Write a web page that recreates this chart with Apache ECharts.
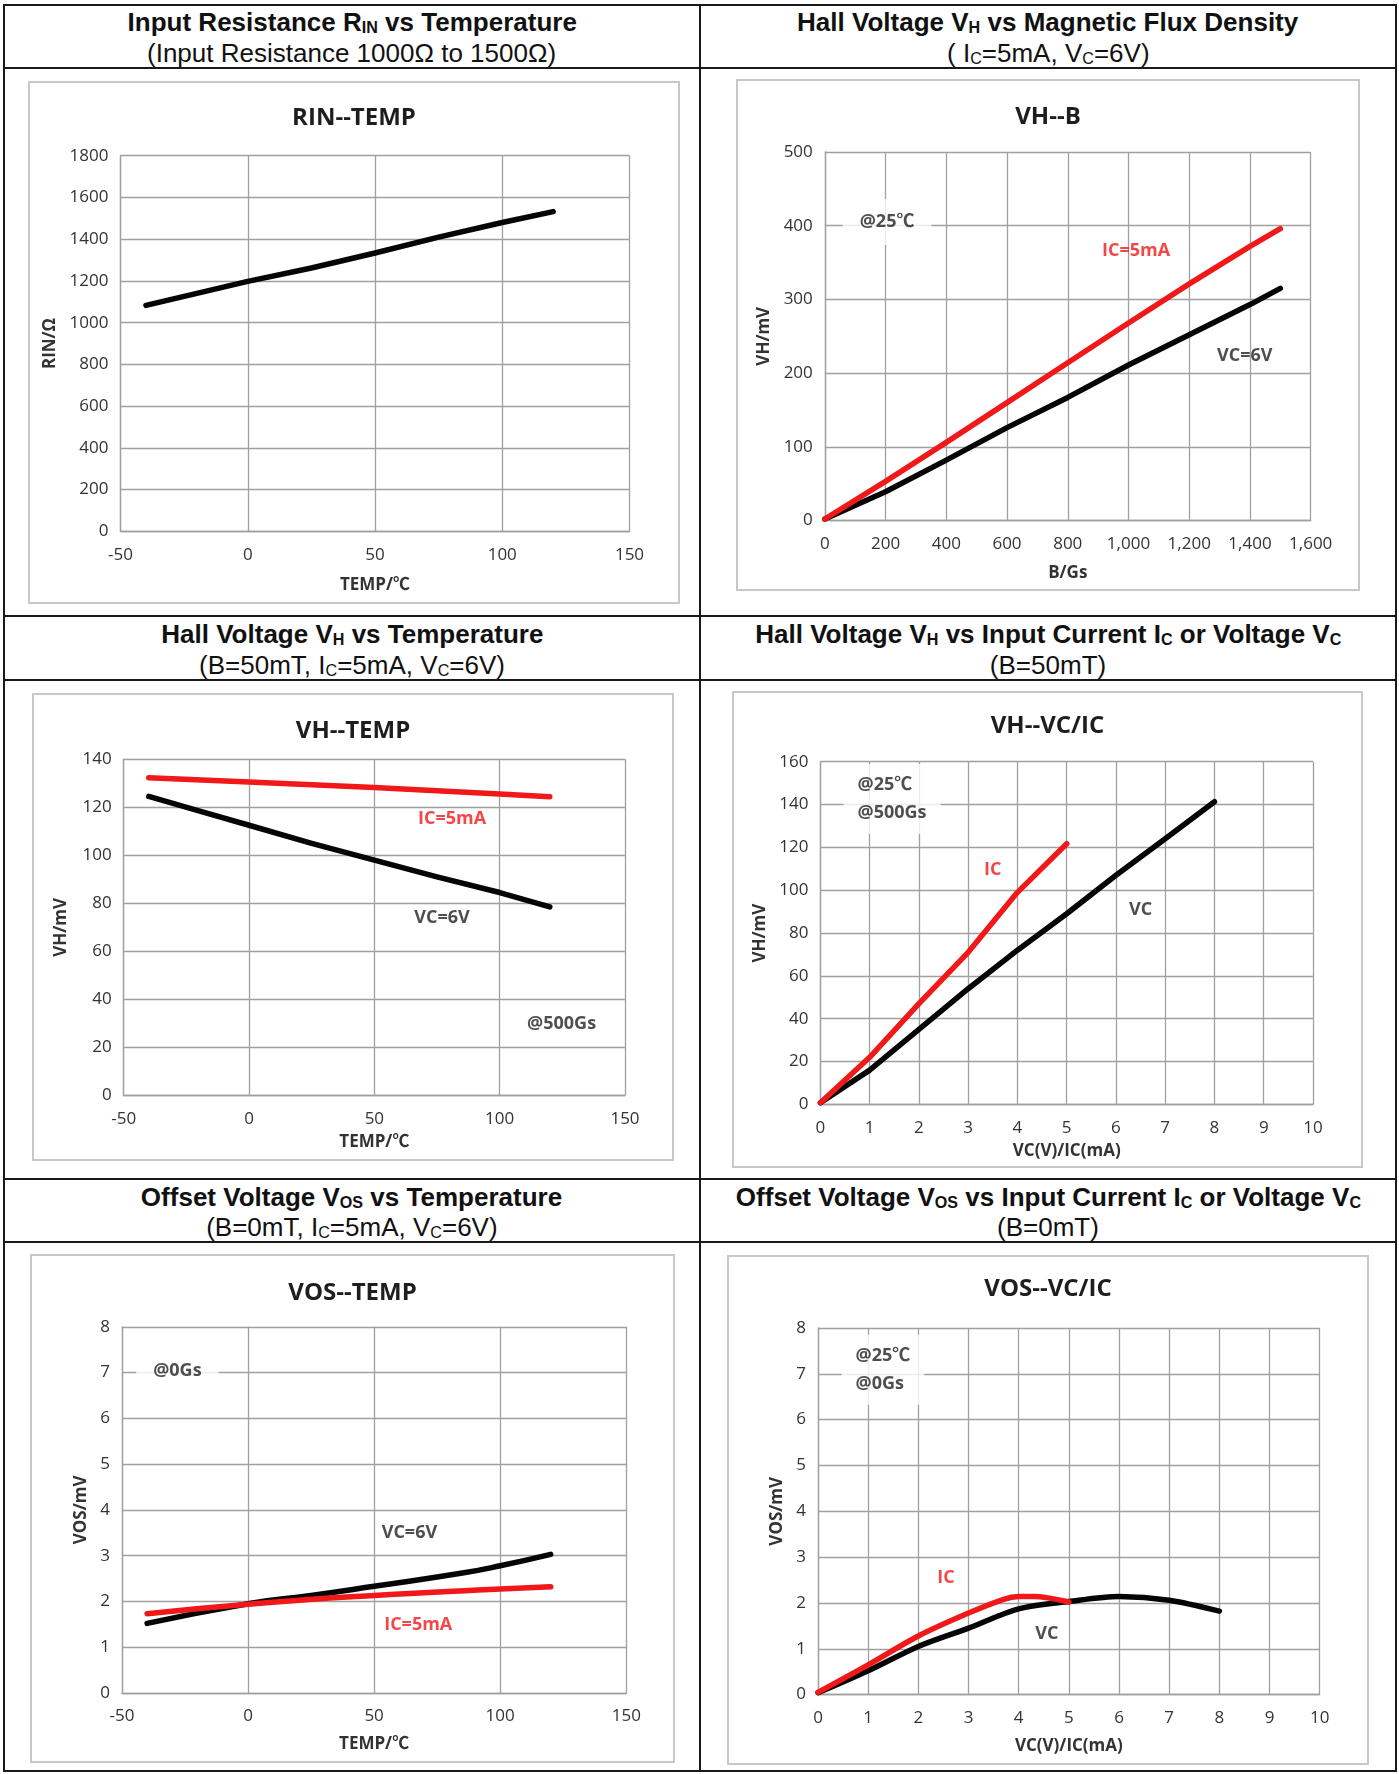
<!DOCTYPE html>
<html>
<head>
<meta charset="utf-8">
<script src="https://cdn.jsdelivr.net/npm/echarts@6/dist/echarts.min.js"></script>
<style>
  body { margin: 0; background: #fff; }
  #page { position: relative; width: 1399px; height: 1774px; overflow: hidden; font-family: "Liberation Sans", Arial, sans-serif; color: #111; }
  .hl, .vl { position: absolute; background: #1a1a1a; }
  .hl { height: 2px; left: 3px; width: 1394px; }
  .vl { width: 2px; top: 3.5px; height: 1768.5px; }
  .hd { position: absolute; width: 696px; text-align: center; white-space: nowrap; height: 30px; line-height: 30px; font-size: 25.5px; }
  .hd span.s { display: inline-block; transform: scaleX(1.02); }
  .hd.t { font-weight: bold; }
  .sb { font-size: 0.62em; vertical-align: -0.12em; }
  .box { position: absolute; border: 2px solid #c8c8c8; box-sizing: border-box; background: #fff; }
</style>
</head>
<body>
<div id="page">
  <div class="hl" style="top:3.5px"></div>
  <div class="hl" style="top:66.5px"></div>
  <div class="hl" style="top:615px"></div>
  <div class="hl" style="top:678.5px"></div>
  <div class="hl" style="top:1177.5px"></div>
  <div class="hl" style="top:1240.5px"></div>
  <div class="hl" style="top:1770px"></div>
  <div class="vl" style="left:3px"></div>
  <div class="vl" style="left:699px"></div>
  <div class="vl" style="left:1394.5px"></div>

  <div class="hd t" style="left:4px;top:7px"><span class="s">Input Resistance R<span class="sb">IN</span> vs Temperature</span></div>
  <div class="hd" style="left:4px;top:37.5px"><span class="s">(Input Resistance 1000Ω to 1500Ω)</span></div>
  <div class="hd t" style="left:700px;top:7px"><span class="s">Hall Voltage V<span class="sb">H</span> vs Magnetic Flux Density</span></div>
  <div class="hd" style="left:700px;top:37.5px"><span class="s">( I<span class="sb">C</span>=5mA, V<span class="sb">C</span>=6V)</span></div>

  <div class="hd t" style="left:4px;top:619px"><span class="s">Hall Voltage V<span class="sb">H</span> vs Temperature</span></div>
  <div class="hd" style="left:4px;top:649.5px"><span class="s">(B=50mT, I<span class="sb">C</span>=5mA, V<span class="sb">C</span>=6V)</span></div>
  <div class="hd t" style="left:700px;top:619px"><span class="s">Hall Voltage V<span class="sb">H</span> vs Input Current I<span class="sb">C</span> or Voltage V<span class="sb">C</span></span></div>
  <div class="hd" style="left:700px;top:649.5px"><span class="s">(B=50mT)</span></div>

  <div class="hd t" style="left:4px;top:1181.5px"><span class="s">Offset Voltage V<span class="sb">OS</span> vs Temperature</span></div>
  <div class="hd" style="left:4px;top:1212px"><span class="s">(B=0mT, I<span class="sb">C</span>=5mA, V<span class="sb">C</span>=6V)</span></div>
  <div class="hd t" style="left:700px;top:1181.5px"><span class="s">Offset Voltage V<span class="sb">OS</span> vs Input Current I<span class="sb">C</span> or Voltage V<span class="sb">C</span></span></div>
  <div class="hd" style="left:700px;top:1212px"><span class="s">(B=0mT)</span></div>

  <div class="box" id="c1"></div>
  <div class="box" id="c2"></div>
  <div class="box" id="c3"></div>
  <div class="box" id="c4"></div>
  <div class="box" id="c5"></div>
  <div class="box" id="c6"></div>
</div>

<script>
// ---- data ----
// axis ranges: [min, max, interval]
const tempAxis = [-50, 150, 50];
const rinAxis = [0, 1800, 200];
const bAxis = [0, 1600, 200];
const vhBAxis = [0, 500, 100];
const vhTAxis = [0, 140, 20];
const icAxis = [0, 10, 1];
const vhIAxis = [0, 160, 20];
const vosAxis = [0, 8, 1];

// RIN--TEMP
const rinTemp = [[-40, 1083], [0, 1198], [25, 1262], [50, 1334], [75, 1410], [100, 1480], [120, 1532]];
// VH--B
const vhB_vc = [[0, 2], [200, 39], [400, 82], [600, 126], [800, 167], [1000, 211], [1200, 252], [1400, 293], [1500, 315]];
const vhB_ic = [[0, 2], [200, 53], [400, 106], [600, 160], [800, 214], [1000, 268], [1200, 321], [1400, 372], [1500, 396]];
// VH--TEMP
const vhT_vc = [[-40, 124.5], [-20, 118.5], [0, 112.5], [25, 105], [50, 98], [75, 91], [100, 84.5], [120, 78.5]];
const vhT_ic = [[-40, 132.3], [0, 130.5], [50, 128.2], [100, 125.5], [120, 124.4]];
// VH--VC/IC
const vhI_vc = [[0, 0.8], [1, 16], [2, 35], [3, 54], [4, 72], [5, 89], [6, 107], [7, 124], [8, 141.3]];
const vhI_ic = [[0, 0.8], [1, 22], [2, 47], [3, 71], [4, 99], [5, 121.7]];
// VOS--TEMP
const vosT_vc = [[-40, 1.52], [0, 1.95], [25, 2.13], [50, 2.33], [85, 2.62], [100, 2.78], [120, 3.03]];
const vosT_ic = [[-40, 1.73], [0, 1.94], [50, 2.13], [100, 2.27], [120, 2.32]];
// VOS--VC/IC
const vosI_vc = [[0, 0.04], [1, 0.52], [2, 1.05], [3, 1.45], [4, 1.87], [5, 2.03], [6, 2.14], [7, 2.06], [8, 1.82]];
const vosI_ic = [[0, 0.05], [1, 0.65], [2, 1.28], [3, 1.78], [3.7, 2.08], [4, 2.14], [4.3, 2.14], [5, 2.02]];

// text notes: [x, y, text, color, align, boxed]
const notesVhB = [[205, 405, '@25℃', '#222', 'center', true], [1025, 366, 'IC=5mA', '#f01818', 'center', false], [1383, 223, 'VC=6V', '#222', 'center', false]];
const notesVhT = [[81, 115, 'IC=5mA', '#f01818', 'center', false], [77, 74, 'VC=6V', '#222', 'center', false], [124.7, 30, '@500Gs', '#222', 'center', false]];
const notesVhI = [[0.47, 142.6, '@25℃\n@500Gs', '#222', 'left', true], [3.5, 109.4, 'IC', '#f01818', 'center', false], [6.5, 90.7, 'VC', '#222', 'center', false]];
const notesVosT = [[-28, 7.03, '@0Gs', '#222', 'center', true], [64, 3.5, 'VC=6V', '#222', 'center', false], [67.5, 1.48, 'IC=5mA', '#f01818', 'center', false]];
const notesVosI = [[0.47, 7.09, '@25℃\n@0Gs', '#222', 'left', true], [2.55, 2.55, 'IC', '#f01818', 'center', false], [4.56, 1.32, 'VC', '#222', 'center', false]];

const FONT = '"Open Sans", "Noto Sans CJK SC", sans-serif';
const GRID = '#a0a0a0';
const RED = '#f01818';
const BLACK = '#050505';

function axis(range, name, nameGap, isX, fmt) {
  return {
    type: 'value', min: range[0], max: range[1], interval: range[2],
    name: name, nameLocation: 'middle', nameGap: nameGap, nameRotate: isX ? 0 : 90,
    nameTextStyle: { fontFamily: FONT, fontSize: 17, fontWeight: 'bold', color: '#333' },
    axisLine: { show: true, onZero: false, lineStyle: { color: GRID, width: 1.3 } },
    axisTick: { show: false },
    axisLabel: {
      margin: isX ? 15 : 12, fontFamily: FONT, fontSize: 17, color: '#333', showMinLabel: true, showMaxLabel: true,
      formatter: fmt || (v => String(v))
    },
    splitLine: { show: true, lineStyle: { color: GRID, width: 1.3 } }
  };
}

function lineSeries(data, color, smooth) {
  return {
    type: 'line', data: data, showSymbol: false, smooth: smooth, silent: true,
    lineStyle: { width: 5.5, color: color, cap: 'round', join: 'round' },
    itemStyle: { color: color }, z: 3
  };
}

function noteSeries(notes) {
  return {
    type: 'scatter', symbolSize: 1, silent: true, z: 6,
    itemStyle: { color: 'rgba(0,0,0,0)' },
    data: notes.map(n => ({
      value: [n[0], n[1]],
      label: {
        show: true, position: 'inside', formatter: n[2], color: n[3], align: n[4], verticalAlign: 'middle',
        fontFamily: FONT, fontSize: 18, fontWeight: 'bold', lineHeight: 28,
        backgroundColor: n[5] ? '#fff' : 'transparent', padding: n[5] ? (n[4] === 'left' ? [7, 14, 7, 14] : [9, 17]) : 0
      }
    }))
  };
}

function draw(id, box, plot, cfg) {
  const el = document.getElementById(id);
  el.style.left = box[0] + 'px';
  el.style.top = box[1] + 'px';
  el.style.width = box[2] + 'px';
  el.style.height = box[3] + 'px';
  const b = 2;
  const chart = echarts.init(el, null, { renderer: 'canvas' });
  const series = cfg.lines.slice();
  if (cfg.notes) series.push(noteSeries(cfg.notes));
  chart.setOption({
    animation: false,
    backgroundColor: '#fff',
    title: {
      text: cfg.title, left: 'center', top: cfg.titleTop, padding: 0,
      textStyle: { fontFamily: FONT, fontSize: 24, fontWeight: 'bold', color: '#1e1e1e' }
    },
    grid: {
      left: plot[0] - box[0] - b, top: plot[1] - box[1] - b,
      right: box[0] + box[2] - plot[2] - b, bottom: box[1] + box[3] - plot[3] - b
    },
    xAxis: axis(cfg.x, cfg.xName, cfg.xGap, true, cfg.xFmt),
    yAxis: axis(cfg.y, cfg.yName, cfg.yGap, false),
    series: series
  });
}

draw('c1', [28, 81, 652, 523], [120.5, 155.7, 629.5, 531.4], {
  title: 'RIN--TEMP', titleTop: 23, x: tempAxis, y: rinAxis,
  xName: 'TEMP/℃', xGap: 45, yName: 'RIN/Ω', yGap: 62,
  lines: [lineSeries(rinTemp, BLACK, false)]
});

draw('c2', [736, 79, 624, 512], [824.8, 152, 1310.7, 520.5], {
  title: 'VH--B', titleTop: 24, x: bAxis, y: vhBAxis,
  xName: 'B/Gs', xGap: 44, yName: 'VH/mV', yGap: 51,
  xFmt: v => v.toLocaleString('en-US'),
  lines: [lineSeries(vhB_vc, BLACK, false), lineSeries(vhB_ic, RED, false)],
  notes: notesVhB
});

draw('c3', [32, 693, 642, 468], [123.7, 759.2, 625, 1095.5], {
  title: 'VH--TEMP', titleTop: 24, x: tempAxis, y: vhTAxis,
  xName: 'TEMP/℃', xGap: 38, yName: 'VH/mV', yGap: 54,
  lines: [lineSeries(vhT_vc, BLACK, false), lineSeries(vhT_ic, RED, false)],
  notes: notesVhT
});

draw('c4', [732, 691, 631, 477], [820.4, 761.7, 1313, 1104.4], {
  title: 'VH--VC/IC', titleTop: 21, x: icAxis, y: vhIAxis,
  xName: 'VC(V)/IC(mA)', xGap: 38, yName: 'VH/mV', yGap: 51,
  lines: [lineSeries(vhI_vc, BLACK, false), lineSeries(vhI_ic, RED, false)],
  notes: notesVhI
});

draw('c5', [30, 1254, 645, 509], [121.9, 1326.8, 626.3, 1693], {
  title: 'VOS--TEMP', titleTop: 25, x: tempAxis, y: vosAxis,
  xName: 'TEMP/℃', xGap: 43, yName: 'VOS/mV', yGap: 32,
  lines: [lineSeries(vosT_vc, BLACK, true), lineSeries(vosT_ic, RED, true)],
  notes: notesVosT
});

draw('c6', [727, 1255, 642, 510], [818, 1328, 1319.7, 1694.6], {
  title: 'VOS--VC/IC', titleTop: 20, x: icAxis, y: vosAxis,
  xName: 'VC(V)/IC(mA)', xGap: 43, yName: 'VOS/mV', yGap: 32,
  lines: [lineSeries(vosI_vc, BLACK, 0.3), lineSeries(vosI_ic, RED, 0.3)],
  notes: notesVosI
});
</script>
</body>
</html>
